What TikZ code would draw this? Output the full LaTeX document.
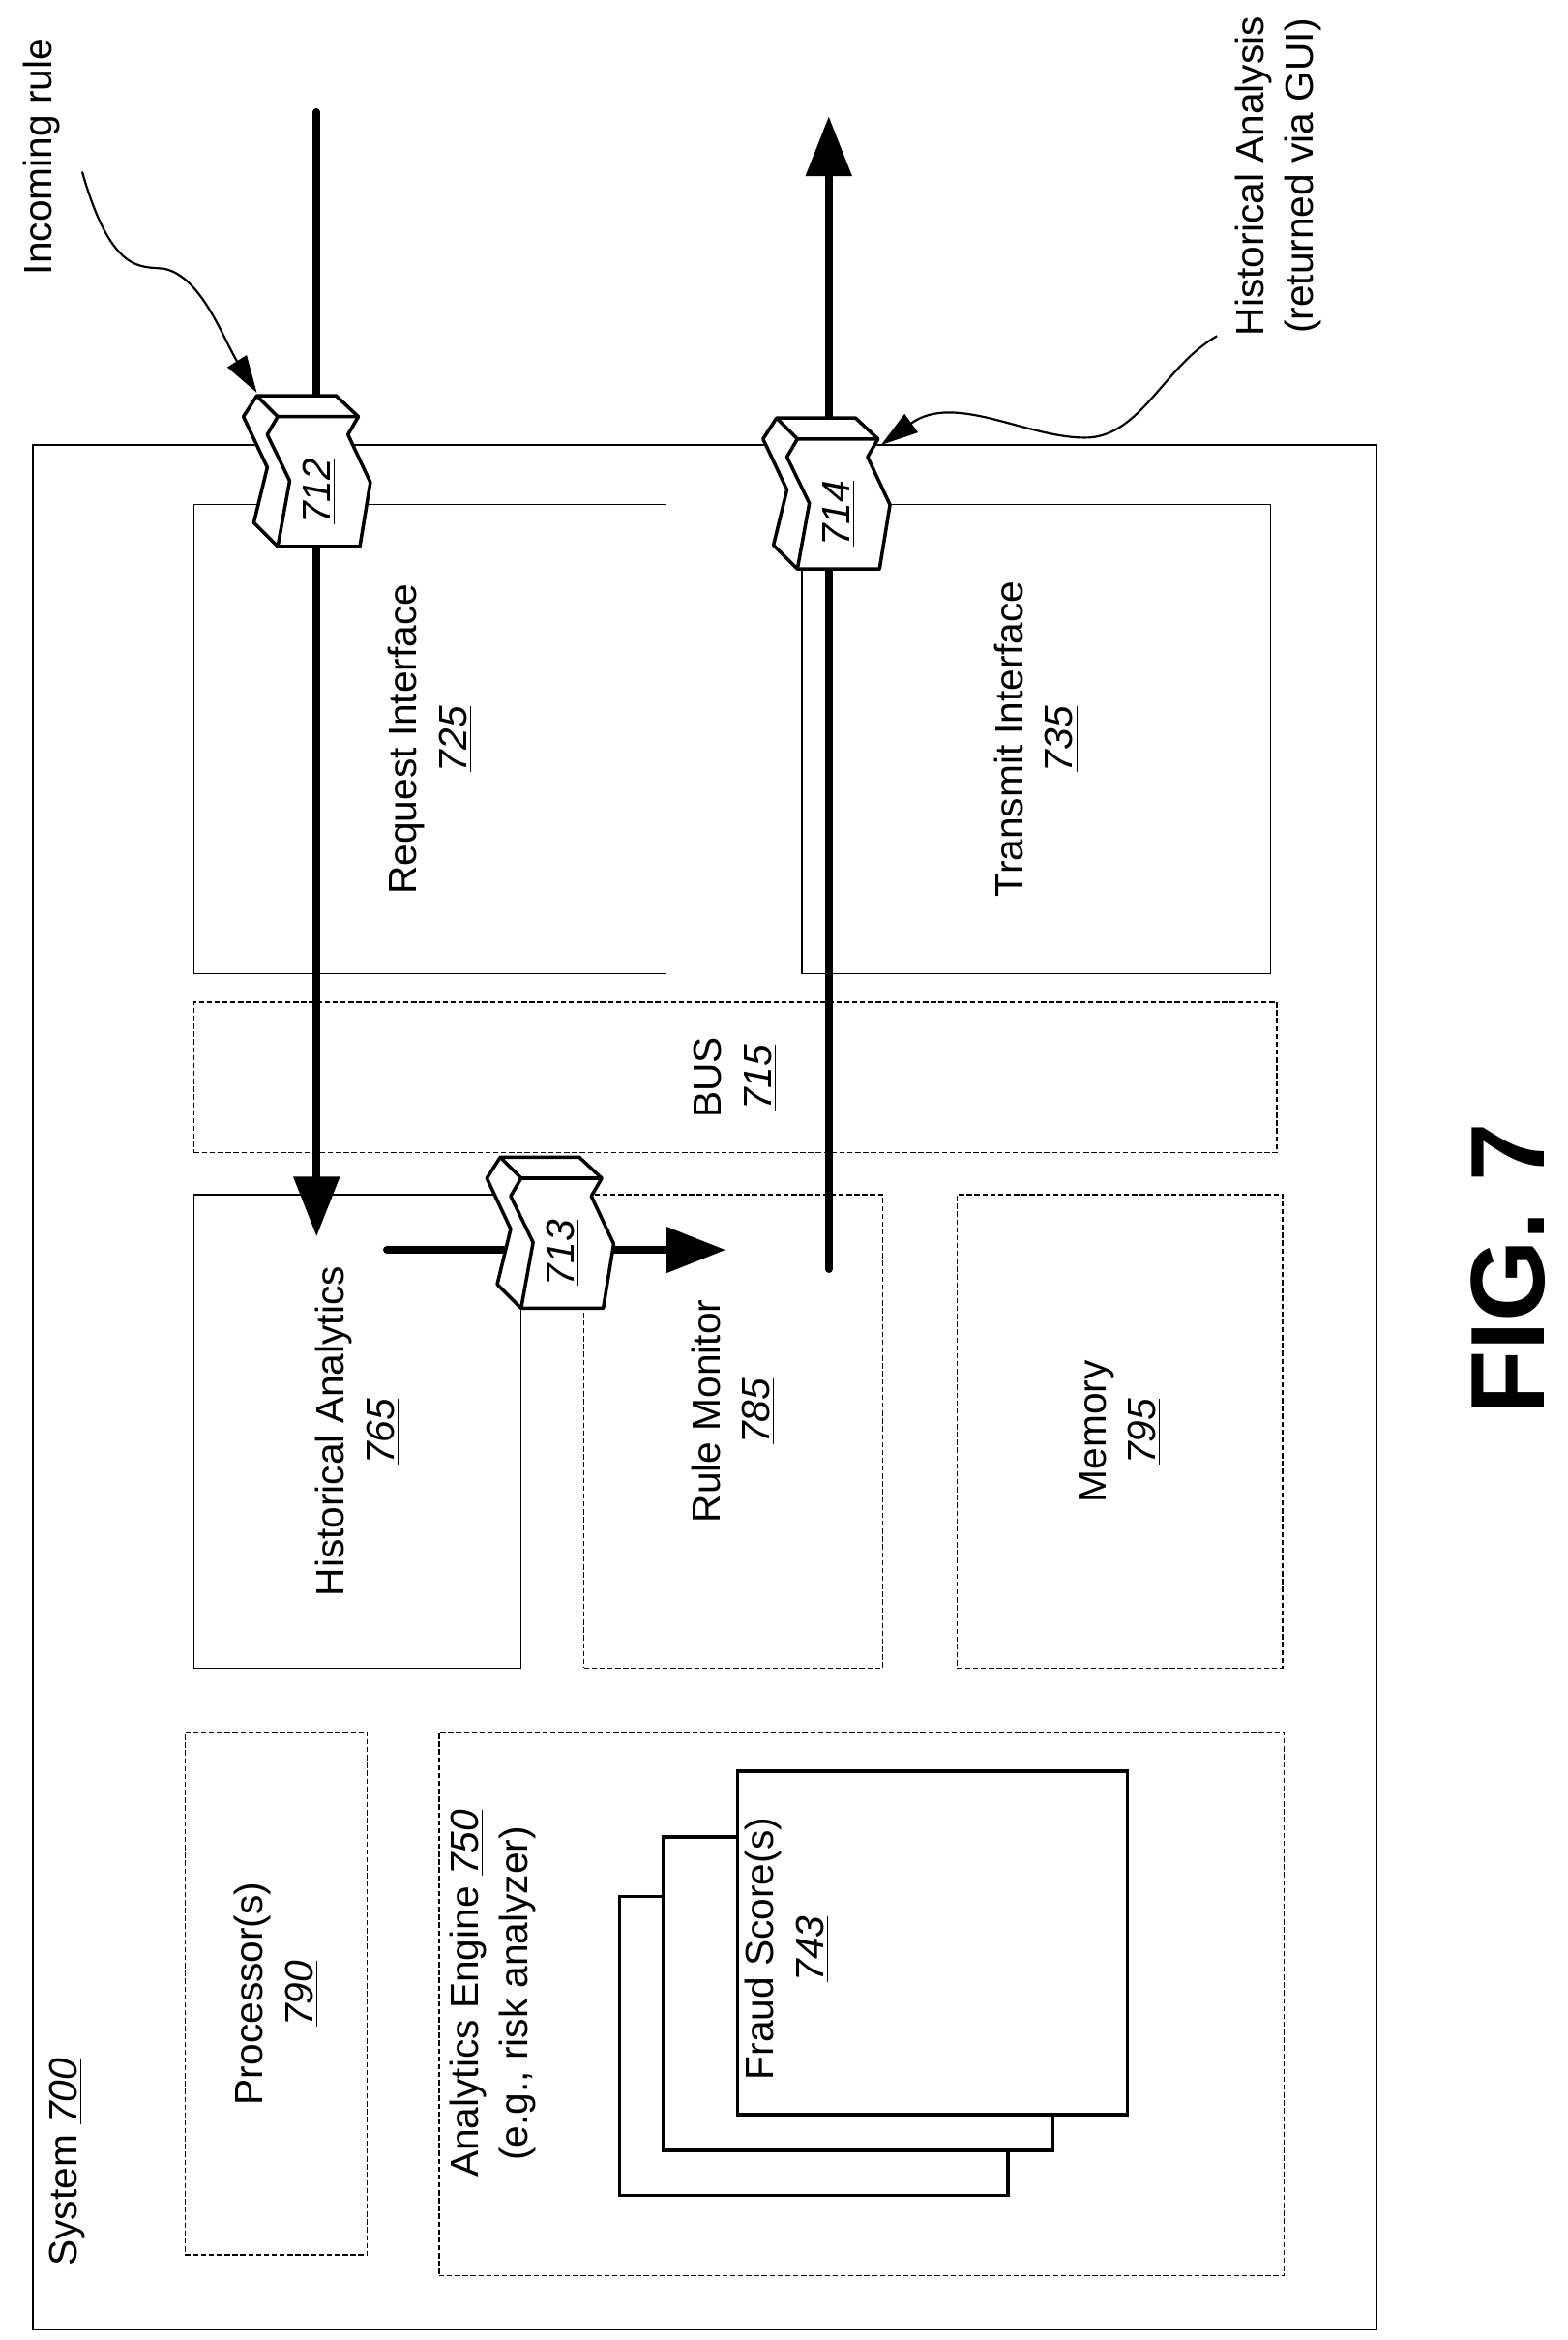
\documentclass[tikz,border=0pt]{standalone}
\usepackage{fontspec}
\setmainfont{Liberation Sans}
\usetikzlibrary{arrows.meta,fit}

\tikzstyle{box} = [draw, line width=0.5pt, inner sep=0pt]
\tikzstyle{dbox} = [box, dash pattern=on 2pt off 1pt]
\tikzstyle{card} = [draw, fill=white, line width=1.3pt, inner sep=0pt]
\tikzstyle{lbl} = [rotate=90, align=center, font=\fontsize{15}{19}\selectfont]
\tikzstyle{flow} = [line width=2.8pt, line cap=round]
\tikzstyle{big} = [-{Triangle[length=8mm,width=6mm]}]
\tikzstyle{lead} = [line width=0.8pt, -{Triangle[length=5mm,width=3mm]}]
\newcommand{\rf}[1]{\underline{\textit{#1}}}

\tikzset{tag/.pic={
    \draw[line width=1.3pt, fill=white, line join=round]
        (-33,-50) -- (20,-50) -- (35,-36) -- (28,-24) -- (43,8) -- (36,51)
        -- (-19,51) -- (-35,35) -- (-26,-2) -- (-42,-36) -- cycle;
    \draw[line width=1.3pt, line join=round]
        (-33,-50) -- (-19,-36) -- (35,-36)
        (-19,-36) -- (-26,-24) -- (-11,7) -- (-19,51);
    \node[lbl] at (9,14) {\rf{#1}};
}}

\begin{document}
\begin{tikzpicture}[x=0.02cm, y=-0.02cm]
    \useasboundingbox (0,0) rectangle (1050,1567);
    % outer system box and the blocks inside it
    \node[box, fit={(22,298) (922,1560)}] (sys) {};
    \node[box, fit={(130,338) (446,652)}] (req) {};
    \node[box, fit={(537,338) (851,652)}] (tx) {};
    \node[dbox, fit={(130,671) (855,772)}] (bus) {};
    \node[box, fit={(130,800) (349,1117)}] (hist) {};
    \node[dbox, fit={(391,800) (591,1117)}] (mon) {};
    \node[dbox, fit={(641,800) (859,1117)}] (mem) {};
    \node[dbox, fit={(124,1160) (246,1510)}] (proc) {};
    \node[dbox, fit={(294,1160) (860,1524)}] (eng) {};
    % stacked fraud score cards
    \node[card, fit={(415,1270) (675,1470)}] (fs3) {};
    \node[card, fit={(444,1230) (705,1440)}] (fs2) {};
    \node[card, fit={(494,1186) (755,1416)}] (fs1) {};

    % labels
    \node[lbl] at (req) {Request Interface\\\rf{725}};
    \node[lbl] at (tx) {Transmit Interface\\\rf{735}};
    \node[lbl] at (bus) {BUS\\\rf{715}};
    \node[lbl] at (hist) {Historical Analytics\\\rf{765}};
    \node[lbl] at (491,945) {Rule Monitor\\\rf{785}};
    \node[lbl] at (mem) {Memory\\\rf{795}};
    \node[lbl] at (185,1335) {Processor(s)\\\rf{790}};
    \node[lbl] (englbl) at (330,1335) {Analytics Engine \rf{750}\\(e.g., risk analyzer)};
    \node[lbl] (fslbl) at (527,1305) {Fraud Score(s)\\\rf{743}};
    \node[lbl] (syslbl) at (45,1448) {System \rf{700}};
    \node[lbl] (inlbl) at (28,105) {Incoming rule};
    \node[lbl] (outlbl) at (856,118) {Historical Analysis\\(returned via GUI)};
    \node[rotate=90, font=\fontsize{40}{40}\selectfont\bfseries] (fig) at (1010,850) {FIG. 7};

    % data flow
    \coordinate (inTop) at (212,75);
    \coordinate (inEnd) at (212,828);
    \coordinate (outStart) at (555,850);
    \coordinate (outTop) at (555,78);
    \coordinate (midStart) at (259,837);
    \coordinate (midEnd) at (486,837);
    \draw[flow, big] (inTop) -- (inEnd);
    \draw[flow, big] (outStart) -- (outTop);
    \draw[flow, big] (midStart) -- (midEnd);

    \pic at (205,315) {tag=712};
    \pic at (553,330) {tag=714};
    \pic at (368,825) {tag=713};

    % callouts
    \coordinate (inA) at (55,115);
    \coordinate (inB) at (172,263);
    \coordinate (outA) at (815,225);
    \coordinate (outB) at (590,298);
    \draw[lead] (inA) .. controls (75,185) and (95,178) .. (110,180)
        .. controls (135,185) and (150,228) .. (inB);
    \draw[lead] (outA) .. controls (780,245) and (765,290) .. (730,293)
        .. controls (690,295) and (640,262) .. (outB);
\end{tikzpicture}
\end{document}
